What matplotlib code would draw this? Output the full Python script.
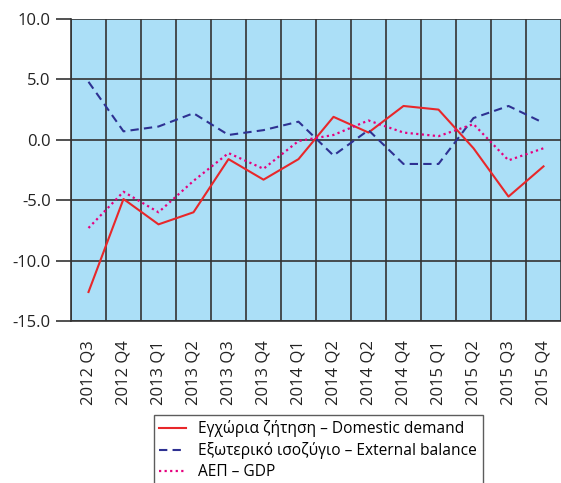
import matplotlib.pyplot as plt
import numpy as np

plt.rcParams['font.family'] = ['Open Sans', 'DejaVu Sans']

quarters = ["2012 Q3", "2012 Q4", "2013 Q1", "2013 Q2", "2013 Q3", "2013 Q4", "2014 Q1",
            "2014 Q2", "2014 Q2", "2014 Q4", "2015 Q1", "2015 Q2", "2015 Q3", "2015 Q4"]

domestic = [-12.6, -4.9, -7.0, -6.0, -1.6, -3.3, -1.6, 1.9, 0.6, 2.8, 2.5, -0.7, -4.7, -2.2]
external = [4.8, 0.7, 1.1, 2.2, 0.4, 0.8, 1.5, -1.3, 0.8, -2.0, -2.0, 1.8, 2.8, 1.4]
gdp = [-7.3, -4.3, -6.0, -3.4, -1.1, -2.4, -0.1, 0.4, 1.6, 0.6, 0.3, 1.3, -1.7, -0.7]

labels = ["Εγχώρια ζήτηση – Domestic demand",
          "Εξωτερικό ισοζύγιο – External balance",
          "ΑΕΠ – GDP"]

fig = plt.figure(figsize=(5.61, 4.83), dpi=100)
ax = fig.add_axes([71 / 561, 1 - 321 / 483, 1 - 71 / 561, (321 - 19) / 483])
ax.set_facecolor("#ABDFF7")

x = np.arange(len(quarters))
ax.plot(x, domestic, color="#E8272A", lw=1.5, label=labels[0])
ax.plot(x, external, color="#2E3192", lw=1.5, ls=(0, (4, 2.5)), label=labels[1])
ax.plot(x, gdp, color="#E6007E", lw=1.6, ls=(0, (1, 1.5)), label=labels[2])

ax.set_xlim(-0.5, len(quarters) - 0.5)
ax.set_ylim(-15, 10)
ax.set_yticks(np.arange(-15, 10.1, 5))
ax.set_yticklabels([f"{v:.1f}" for v in np.arange(-15, 10.1, 5)])
ax.set_xticks(x)
ax.set_xticklabels(quarters, rotation=90)
ax.set_xticks(np.arange(-0.5, len(quarters), 1), minor=True)

ax.grid(True, which="minor", axis="x", color="#333333", lw=1.2)
ax.grid(True, which="major", axis="y", color="#333333", lw=1.2)
ax.tick_params(axis="x", which="both", length=0, pad=14, labelsize=12, colors="#222222")
ax.tick_params(axis="y", length=11, width=1.2, color="#333333", labelsize=12, labelcolor="#222222")
for side in ["top", "right"]:
    ax.spines[side].set_visible(False)
for side in ["left", "bottom"]:
    ax.spines[side].set_color("#333333")
    ax.spines[side].set_linewidth(1.2)

leg = fig.legend(loc="upper left", bbox_to_anchor=(154 / 561, 1 - 415 / 483),
                 fontsize=11.2, frameon=True, fancybox=False, handlelength=1.7,
                 handletextpad=0.8, labelspacing=0.32, borderpad=0.35, borderaxespad=0)
leg.get_frame().set_edgecolor("#333333")
leg.get_frame().set_linewidth(1.0)

fig.savefig("out.png", dpi=100)
